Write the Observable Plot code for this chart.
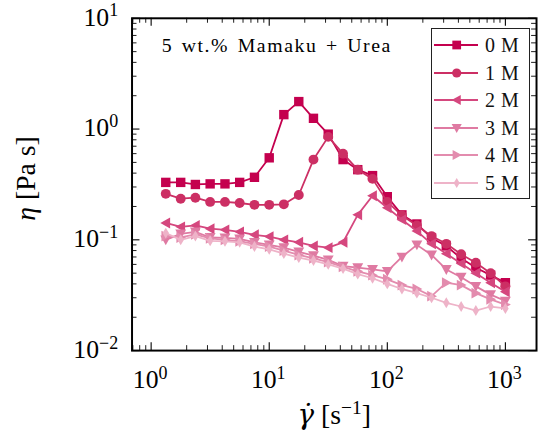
<!DOCTYPE html>
<html>
<head>
<meta charset="utf-8">
<script src="https://cdn.jsdelivr.net/npm/d3@7"></script>
<script src="https://cdn.jsdelivr.net/npm/@observablehq/plot@0.6"></script>
<style>
  html, body { margin: 0; padding: 0; background: #fff; overflow: hidden; }
  #wrap { position: relative; width: 539px; height: 440px; overflow: hidden; background: #fff; }
  #wrap svg { display: block; }
  .leg { position: absolute; left: 431px; top: 28px; width: 99px; height: 171px; box-sizing: border-box;
         border: 1.3px solid #222; background: #fff; font-family: 'Liberation Serif', serif; }
  .row { position: absolute; left: 0; height: 20px; width: 97px; }
  .row svg { position: absolute; left: 0; top: 0; }
  .row span { position: absolute; left: 53px; top: 0; line-height: 20px; font-size: 20px; letter-spacing: 0.5px; color: #111; white-space: nowrap; }
</style>
</head>
<body>
<div id="wrap"></div>
<script>
// ---- data ----
const shearRate = [1.33, 1.78, 2.37, 3.16, 4.22, 5.62, 7.5, 10, 13.3, 17.8, 23.7, 31.6,
                   42.2, 56.2, 75, 100, 133, 178, 237, 316, 422, 562, 750, 1000];
const eta0M = [0.33, 0.33, 0.316, 0.32, 0.32, 0.33, 0.367, 0.55, 1.35, 1.77, 1.25, 0.90,
               0.53, 0.43, 0.38, 0.245, 0.168, 0.139, 0.104, 0.088, 0.068, 0.056, 0.048, 0.041];
const eta1M = [0.26, 0.235, 0.24, 0.22, 0.22, 0.215, 0.207, 0.207, 0.209, 0.254, 0.53, 0.85,
               0.60, 0.43, 0.355, 0.22, 0.166, 0.135, 0.108, 0.092, 0.074, 0.062, 0.05, 0.038];
const eta2M = [0.142, 0.131, 0.135, 0.126, 0.123, 0.118, 0.111, 0.107, 0.100, 0.095, 0.088, 0.085,
               0.095, 0.168, 0.25, 0.195, 0.152, 0.12, 0.092, 0.075, 0.061, 0.05, 0.041, 0.034];
const eta3M = [0.100, 0.113, 0.118, 0.105, 0.104, 0.102, 0.095, 0.090, 0.085, 0.078, 0.072, 0.066,
               0.058, 0.056, 0.054, 0.052, 0.070, 0.090, 0.073, 0.054, 0.046, 0.038, 0.032, 0.028];
const eta4M = [0.108, 0.105, 0.112, 0.103, 0.100, 0.097, 0.092, 0.087, 0.080, 0.073, 0.068, 0.063,
               0.057, 0.052, 0.048, 0.044, 0.039, 0.036, 0.031, 0.041, 0.039, 0.033, 0.029, 0.026];
const eta5M = [0.115, 0.100, 0.108, 0.098, 0.097, 0.095, 0.087, 0.082, 0.075, 0.069, 0.065, 0.060,
               0.055, 0.049, 0.045, 0.040, 0.036, 0.033, 0.030, 0.027, 0.025, 0.023, 0.025, 0.024];

const seriesNames = ["0 M", "1 M", "2 M", "3 M", "4 M", "5 M"];
const seriesValues = [eta0M, eta1M, eta2M, eta3M, eta4M, eta5M];
const seriesColors = ["#c4004e", "#cc2f64", "#d5477e", "#df7aa2", "#e38cae", "#eeb3c8"];
const seriesSymbols = ["square", "circle", "left", "down", "right", "thin"];

const xMajor = [1, 10, 100, 1000];
const xTickLabels = ["10^{0}", "10^{1}", "10^{2}", "10^{3}"];
const yMajor = [0.01, 0.1, 1, 10];
const yTickLabels = ["10^{−2}", "10^{−1}", "10^{0}", "10^{1}"];
const annotation = ["5 wt.% Mamaku + Urea"];
const xTitle = ["γ\u0307 [s^{−1}]"];
const yTitle = ["η [Pa s]"];

// ---- layout ----
const W = 545, H = 440, mL = 133, mR = 3, mT = 18, mB = 86;
const frameW = W - mL - mR, frameH = H - mT - mB;
const xDomain = [0.689, 1835], yDomain = [0.01, 10];

const xMinor = [], yMinor = [];
for (const d of [0.1, 1, 10, 100, 1000]) for (let k = 2; k <= 9; k++) {
  const v = d * k; if (v >= xDomain[0] && v <= xDomain[1]) xMinor.push(v);
}
for (const d of [0.01, 0.1, 1]) for (let k = 2; k <= 9; k++) yMinor.push(d * k);

// ---- custom marker symbols ----
const rOf = s => Math.sqrt(s / Math.PI);
const SYM = {
  square: { draw(c, s) { const a = rOf(s) * 0.95; c.rect(-a, -a, 2 * a, 2 * a); } },
  circle: { draw(c, s) { const a = rOf(s); c.moveTo(a, 0); c.arc(0, 0, a, 0, 2 * Math.PI); } },
  left:   { draw(c, s) { const a = rOf(s) * 1.1; c.moveTo(-a, 0); c.lineTo(a * 0.8, -a); c.lineTo(a * 0.8, a); c.closePath(); } },
  right:  { draw(c, s) { const a = rOf(s) * 1.1; c.moveTo(a, 0); c.lineTo(-a * 0.8, -a); c.lineTo(-a * 0.8, a); c.closePath(); } },
  down:   { draw(c, s) { const a = rOf(s) * 1.1; c.moveTo(0, a); c.lineTo(-a, -a * 0.8); c.lineTo(a, -a * 0.8); c.closePath(); } },
  thin:   { draw(c, s) { const a = rOf(s) * 1.1; c.moveTo(0, -a); c.lineTo(a * 0.6, 0); c.lineTo(0, a); c.lineTo(-a * 0.6, 0); c.closePath(); } }
};

const seriesData = seriesValues.map(vals => vals.map((v, i) => ({ x: shearRate[i], y: v })));

const dataMarks = seriesData.flatMap((data, i) => [
  Plot.line(data, { x: "x", y: "y", stroke: seriesColors[i], strokeWidth: 1.8, strokeLinejoin: "round" }),
  Plot.dot(data, { x: "x", y: "y", fill: seriesColors[i], symbol: SYM[seriesSymbols[i]], r: 5 })
]);

const MAJ = 8, MIN = 5;
const chart = Plot.plot({
  width: W, height: H,
  marginLeft: mL, marginRight: mR, marginTop: mT, marginBottom: mB,
  style: { background: "white", fontFamily: "'Liberation Serif', serif", color: "black" },
  x: { type: "log", domain: xDomain, axis: null },
  y: { type: "log", domain: yDomain, axis: null },
  marks: [
    ...dataMarks,
    // ticks, inward on all four sides
    Plot.tickX(xMajor, { x: d => d, insetTop: frameH - MAJ, stroke: "black", strokeWidth: 1.1 }),
    Plot.tickX(xMinor, { x: d => d, insetTop: frameH - MIN, stroke: "black", strokeWidth: 0.9 }),
    Plot.tickX(xMajor, { x: d => d, insetBottom: frameH - MAJ, stroke: "black", strokeWidth: 1.1 }),
    Plot.tickX(xMinor, { x: d => d, insetBottom: frameH - MIN, stroke: "black", strokeWidth: 0.9 }),
    Plot.tickY(yMajor, { y: d => d, insetRight: frameW - MAJ, stroke: "black", strokeWidth: 1.1 }),
    Plot.tickY(yMinor, { y: d => d, insetRight: frameW - MIN, stroke: "black", strokeWidth: 0.9 }),
    Plot.tickY(yMajor, { y: d => d, insetLeft: frameW - MAJ, stroke: "black", strokeWidth: 1.1 }),
    Plot.tickY(yMinor, { y: d => d, insetLeft: frameW - MIN, stroke: "black", strokeWidth: 0.9 }),
    Plot.frame({ stroke: "black", strokeWidth: 2 }),
    // tick labels
    Plot.text(xMajor, { x: d => d, text: (d, i) => xTickLabels[i], frameAnchor: "bottom",
      lineAnchor: "middle", textAnchor: "middle", dy: 30, dx: -1, fontSize: 26, fill: "black" }),
    Plot.text(yMajor, { y: d => d, text: (d, i) => yTickLabels[i], frameAnchor: "left",
      lineAnchor: "middle", textAnchor: "end", dx: -14, dy: -1, fontSize: 26, fill: "black" }),
    // axis titles
    Plot.text(xTitle, { text: d => d, frameAnchor: "bottom", lineAnchor: "middle",
      textAnchor: "middle", dy: 65, fontSize: 28, fill: "black" }),
    Plot.text(yTitle, { text: d => d, frameAnchor: "left", lineAnchor: "middle", rotate: -90,
      textAnchor: "middle", dx: -107, dy: -6, fontSize: 28, fill: "black" }),
    // annotation
    Plot.text(annotation, { text: d => d, frameAnchor: "top-left", lineAnchor: "middle",
      textAnchor: "start", dx: 30, dy: 28, fontSize: 20, fill: "black" })
  ]
});

const wrap = document.getElementById("wrap");
wrap.appendChild(chart);

// annotation: wider spacing like the reference's Computer Modern text
chart.querySelectorAll("text").forEach(t => {
  if (t.textContent === annotation[0]) {
    t.setAttribute("letter-spacing", "1.6");
    t.setAttribute("word-spacing", "2");
  }
});

// rich text: superscripts ^{..} and italic Greek letters (with optional combining accent)
const NS = "http://www.w3.org/2000/svg";
chart.querySelectorAll("text").forEach(t => {
  const s = t.textContent;
  if (!/\^\{|[α-ω]/.test(s)) return;
  const fs = parseFloat(getComputedStyle(t).fontSize) || 26;
  while (t.firstChild) t.removeChild(t.firstChild);
  const parts = s.split(/(\^\{[^}]*\}|[α-ω]\u0307?)/).filter(p => p);
  let raised = 0;
  for (const p of parts) {
    const ts = document.createElementNS(NS, "tspan");
    if (p.startsWith("^{")) {
      ts.textContent = p.slice(2, -1);
      ts.setAttribute("font-size", (0.7 * fs).toFixed(1));
      ts.setAttribute("dy", (-0.36 * fs).toFixed(1));
      raised = 0.36 * fs;
    } else {
      ts.textContent = p;
      if (raised) { ts.setAttribute("dy", raised.toFixed(1)); raised = 0; }
      if (/[α-ω]/.test(p)) {
        ts.setAttribute("font-style", "italic");
        if (p.length > 1) ts.setAttribute("font-family", "'DejaVu Serif', serif");
      }
    }
    t.appendChild(ts);
  }
});

// legend
const leg = d3.select(wrap).append("div").attr("class", "leg");
seriesNames.forEach((name, i) => {
  const row = leg.append("div").attr("class", "row").style("top", (6 + 27.6 * i) + "px");
  const sv = row.append("svg").attr("width", 50).attr("height", 20);
  sv.append("line").attr("x1", 2).attr("x2", 46).attr("y1", 10).attr("y2", 10)
    .attr("stroke", seriesColors[i]).attr("stroke-width", 1.8);
  sv.append("path").attr("transform", "translate(24.7,10)")
    .attr("d", d3.symbol().type(SYM[seriesSymbols[i]]).size(Math.PI * 4.6 * 4.6)())
    .attr("fill", seriesColors[i]);
  row.append("span").text(name);
});
</script>
</body>
</html>
